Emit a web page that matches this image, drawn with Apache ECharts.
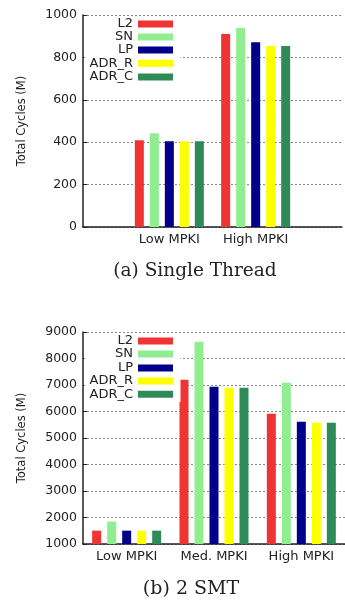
<!DOCTYPE html>
<html>
<head>
<meta charset="utf-8">
<script src="https://cdn.jsdelivr.net/npm/echarts@6/dist/echarts.min.js"></script>
<style>html,body{margin:0;padding:0;background:#fff}#c{width:345px;height:601px}</style>
</head>
<body>
<div id="c"></div>
<script>
const seriesNames = ['L2', 'SN', 'LP', 'ADR_R', 'ADR_C'];
const seriesColors = ['#f03434', '#90ee90', '#00008b', '#ffff00', '#2e8b57'];

const catsA = ['', 'Low MPKI', 'High MPKI', ''];
const valsA_L2 = [null, 409, 910, null];
const valsA_SN = [null, 442, 939, null];
const valsA_LP = [null, 405, 872, null];
const valsA_ADR_R = [null, 405, 854, null];
const valsA_ADR_C = [null, 405, 854, null];
const ticksA = { min: 0, max: 1000, interval: 200 };

const catsB = ['Low MPKI', 'Med. MPKI', 'High MPKI'];
const valsB_L2 = [1504, 7196, 5912];
const valsB_SN = [1844, 8632, 7083];
const valsB_LP = [1504, 6932, 5610];
const valsB_ADR_R = [1504, 6894, 5572];
const valsB_ADR_C = [1504, 6894, 5572];
const ticksB = { min: 1000, max: 9000, interval: 1000 };

const yName = 'Total Cycles (M)';
const captionA = '(a) Single Thread';
const captionB = '(b) 2 SMT';

const valsA = [valsA_L2, valsA_SN, valsA_LP, valsA_ADR_R, valsA_ADR_C];
const valsB = [valsB_L2, valsB_SN, valsB_LP, valsB_ADR_R, valsB_ADR_C];

const FONT = 'DejaVu Sans';
const chart = echarts.init(document.getElementById('c'), null, { renderer: 'canvas' });

function yAxisDef(gi, t) {
  return {
    type: 'value', gridIndex: gi, min: t.min, max: t.max, interval: t.interval,
    name: yName, nameLocation: 'middle', nameGap: 55, nameRotate: 90,
    nameTextStyle: { fontFamily: FONT, fontSize: 11.5, color: '#222' },
    axisLine: { show: true, lineStyle: { color: '#222', width: 1.5 } },
    axisTick: { show: true, inside: true, length: 4, lineStyle: { color: '#222' } },
    axisLabel: { fontFamily: FONT, fontSize: 12.5, color: '#222', margin: 6,
      formatter: v => String(v) },
    splitLine: { show: true, lineStyle: { color: '#888', type: [2, 2], width: 1 } }
  };
}
function xAxisDef(gi, cats, bg) {
  return {
    type: 'category', gridIndex: gi, data: cats, boundaryGap: bg,
    axisLine: { show: true, lineStyle: { color: '#222', width: 1.5 } },
    axisTick: { show: false },
    axisLabel: { fontFamily: FONT, fontSize: 13, color: '#222', margin: 6, interval: 0 },
    splitLine: { show: false }
  };
}

const series = [];
seriesNames.forEach((n, i) => {
  series.push({ type: 'bar', name: n, xAxisIndex: 0, yAxisIndex: 0, data: valsA[i],
    barWidth: 9, barGap: '66.7%', itemStyle: { color: seriesColors[i] }, animation: false });
});
seriesNames.forEach((n, i) => {
  series.push({ type: 'bar', name: n, xAxisIndex: 1, yAxisIndex: 1, data: valsB[i],
    barWidth: 9, barGap: '66.7%', itemStyle: { color: seriesColors[i] }, animation: false });
});

const legendCentersA = [24, 37, 50, 63.3, 77];
const legendCentersB = [341, 354, 368, 381, 394.3];
const legends = [];
function addLegends(centers) {
  seriesNames.forEach((n, i) => {
    legends.push({
      data: [{ name: n, icon: 'rect', itemStyle: { color: seriesColors[i] } }],
      orient: 'vertical', align: 'right', right: 172, top: centers[i] - 6.5,
      padding: 0, itemWidth: 35, itemHeight: 7, selectedMode: false, z: 5,
      textStyle: { fontFamily: FONT, fontSize: 13, color: '#222', lineHeight: 13 }
    });
  });
}
addLegends(legendCentersA);
addLegends(legendCentersB);

chart.setOption({
  animation: false,
  backgroundColor: '#fff',
  grid: [
    { left: 83, top: 15, width: 267, height: 212, containLabel: false },
    { left: 83, top: 332, width: 267, height: 212, containLabel: false }
  ],
  xAxis: [xAxisDef(0, catsA, false), xAxisDef(1, catsB, true)],
  yAxis: [yAxisDef(0, ticksA), yAxisDef(1, ticksB)],
  legend: legends,
  title: [
    { text: captionA, left: 195, top: 262, textAlign: 'center', padding: 0,
      textStyle: { fontFamily: 'DejaVu Serif', fontSize: 18.5, fontWeight: 'normal', color: '#222' } },
    { text: captionB, left: 191, top: 580, textAlign: 'center', padding: 0,
      textStyle: { fontFamily: 'DejaVu Serif', fontSize: 19, fontWeight: 'normal', color: '#222' } }
  ],
  graphic: [
    { type: 'rect', z: 3, silent: true, shape: { x: 84.5, y: 17, width: 96, height: 68 }, style: { fill: '#fff' } },
    { type: 'rect', z: 3, silent: true, shape: { x: 84.5, y: 335, width: 96, height: 67 }, style: { fill: '#fff' } }
  ],
  series: series
});
</script>
</body>
</html>
